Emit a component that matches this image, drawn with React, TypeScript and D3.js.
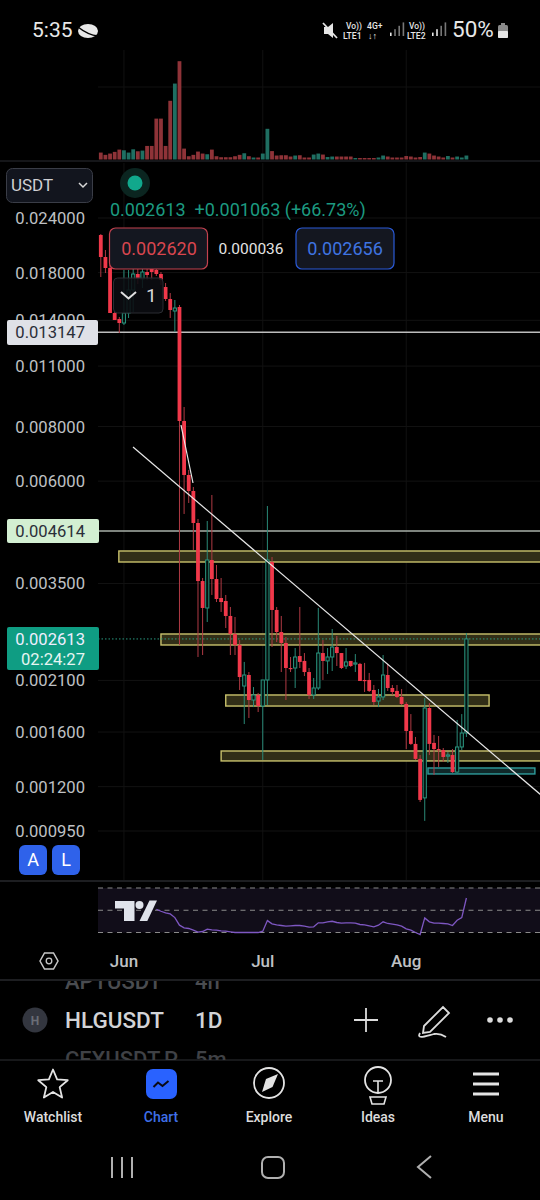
import React from "react";
import * as d3 from "d3";

const FIRST_DAY = "2023-05-27";
const MONTH_TICKS = ["2023-06-01", "2023-07-01", "2023-08-01"];
const MONTH_LABELS = ["Jun", "Jul", "Aug"];

const opens = [
  .021943,.019542,.018442,.014549,.014097,.013803,.014549,.016424,.017868,.017404,.018057,.018442,.018249,.017868,.016686,.015663,.014703,.015017,.008238,.006198,
  .005697,.004813,.003545,.003076,.003961,.003583,.003242,.003191,.002949,.002682,.002531,.002039,.002161,.001894,.001945,.001835,.002105,.003919,.003044,.002710,
  .002558,.002242,.002242,.002388,.002327,.002195,.001945,.002018,.002426,.002327,.002376,.002504,.002426,.002266,.002327,.002291,.002291,.002105,.002105,.001997,
  .001884,.001925,.002161,.002018,.001987,.001925,.001855,.001609,.001503,.001389,.001131,.001816,.001511,.001463,.001455,.001411,.001418,.001296,.001479,.001592,
];
const highs = [
  .022059,.020276,.019034,.014703,.014246,.018249,.018249,.018442,.018442,.019034,.018835,.019034,.018637,.018057,.017041,.016166,.015581,.015176,.008867,.006363,
  .005818,.004916,.003602,.004864,.005578,.003858,.003602,.003294,.003092,.002933,.002598,.002315,.002195,.002028,.001966,.002105,.005264,.004023,.003092,.002949,
  .002640,.002376,.002491,.003092,.002426,.002242,.002127,.003076,.002598,.002491,.002753,.002654,.002426,.002491,.002327,.002413,.002303,.002303,.002184,.002050,
  .002007,.002401,.002291,.002050,.002050,.002007,.001874,.001759,.001559,.001418,.001914,.001864,.001576,.001567,.001471,.001440,.001463,.001705,.001759,.002696,
];
const lows = [
  .017588,.017962,.014549,.014023,.013095,.013659,.014172,.014626,.016951,.016598,.017313,.017313,.017680,.016863,.015499,.014172,.013164,.002531,.005047,.005348,
  .004175,.002376,.002401,.002857,.003294,.003174,.003012,.002768,.002401,.002401,.001997,.001669,.001723,.001825,.001778,.001381,.001845,.002504,.002571,.002195,
  .001894,.002195,.002018,.002242,.002149,.001904,.001904,.001997,.002105,.002172,.002207,.002266,.002230,.002230,.002254,.002195,.002094,.001976,.001976,.001845,
  .001825,.001894,.001987,.001945,.001914,.001845,.001463,.001495,.001381,.001107,.001002,.001418,.001276,.001331,.001367,.001360,.001290,.001290,.001455,.001559,
];
const closes = [
  .019542,.018442,.014549,.014023,.013803,.014549,.016424,.017868,.017404,.018057,.017774,.018057,.017868,.017313,.015663,.014781,.014938,.008238,.006198,.005697,
  .004813,.003545,.003076,.003961,.003583,.003225,.003174,.002949,.002682,.002531,.002138,.002161,.001894,.001945,.001835,.002105,.003961,.003044,.002710,.002558,
  .002242,.002230,.002376,.002315,.002195,.001945,.002018,.002426,.002327,.002376,.002504,.002426,.002242,.002315,.002266,.002303,.002094,.002094,.001987,.001874,
  .001925,.002161,.002018,.001976,.001925,.001855,.001609,.001503,.001389,.001119,.001816,.001503,.001463,.001455,.001403,.001418,.001296,.001479,.001592,.002613,
];
const volumes = [
  7,4.7,6,7.7,10,9.3,7,10.3,8.3,9,13.7,13.7,41.3,41.3,13.7,59.3,76.7,99.3,11,3.3,
  4.7,8,6,5.3,10,3.3,2.3,2.3,2.3,3.3,4.7,6.3,3.3,2,2,6,31,8.5,4,4.3,
  4.3,3,4,4.3,2,2,5,6,5,2.5,3,3,3,3,3,1.5,1.5,1.5,1.5,1.5,
  2,4,3,2,2,2,3.5,3,2,2.5,7,6,4,3,2,3.5,2,3,2,4,
];
const volumeUp = [
  0,0,0,0,0,1,1,1,0,1,0,0,0,0,0,0,1,0,0,0,
  0,0,0,1,0,0,0,0,0,0,0,1,0,1,0,1,1,0,0,0,
  0,0,1,0,0,0,1,1,0,1,1,0,0,0,0,1,0,0,0,0,
  1,1,0,0,0,0,0,0,0,0,1,0,0,0,0,1,0,1,1,1,
];
const RSI_START = 12;
const rsiValues = [
  50.9,49.1,47.6,46.7,43.4,36.6,34.2,33.6,32.1,30.3,30.9,33.0,32.4,32.1,31.5,31.2,30.6,30,30,30,
  30,30,30,31.2,40.7,37.8,36.9,36.3,35.7,36,36.3,36.3,35.7,34.8,35.1,38.7,38.7,39.6,40.1,39,
  38.4,38.7,38.7,38.4,37.2,36.9,36,35.1,36.6,39.6,38.1,37.5,36.9,35.7,33.3,32.1,30,28.2,43.1,39.6,
  38.4,38.4,38.1,37.8,36.3,41,43.4,61,
];
const priceTicks = [0.024, 0.018, 0.014, 0.011, 0.008, 0.006, 0.0035, 0.0021, 0.0016, 0.0012, 0.00095];
const rsiLevels = [70, 50, 30];
// zones: top price, bottom price, first candle index, last candle index (null: runs off the chart)
const zoneTop = [0.004153, 0.002682, 0.001945, 0.001448, 0.001324];
const zoneBottom = [0.003919, 0.002531, 0.001835, 0.001374, 0.001283];
const zoneFrom = [3.9, 13, 27, 26, 70.7];
const zoneTo = [null, null, 83.9, null, 93.8];
const levelPrices = [0.013147, 0.004614];
const lastPrice = 0.002613;

const W = 540;
const FONT = "Roboto, sans-serif";
const RED = "#f0384a";
const GREEN = "#2a9680";

const parse = (s: string) => new Date(s + "T00:00:00Z");
const day0 = parse(FIRST_DAY);
const dateOf = (i: number) => d3.utcDay.offset(day0, i);
const x = d3.scaleTime().domain([day0, dateOf(79)]).range([100.8, 466.4]);
const xi = (i: number) => x(new Date(day0.getTime() + i * 864e5));
const y = d3.scaleLog().domain([0.024, 0.00095]).range([218, 831]);
const vy = d3.scaleLinear().domain([0, 100]).range([159.5, 60.5]);
const ry = d3.scaleLinear().domain([30, 70]).range([932.5, 888]);
const rsiLine = d3.line<number>().x((_, i) => xi(i + RSI_START)).y((d) => ry(d));

const fmt = (v: number) => v.toFixed(6);

const T = (p: any) => <text fontFamily={FONT} {...p} />;

function Candles() {
  return (
    <g>
      {opens.map((o, i) => {
        const c = closes[i];
        const up = c >= o;
        const cx = xi(i);
        const top = y(Math.max(o, c));
        const h = Math.max(1.2, y(Math.min(o, c)) - top);
        return (
          <g key={i}>
            <line x1={cx} x2={cx} y1={y(highs[i])} y2={y(lows[i])} stroke={up ? "#2a8a78" : "#b03a44"} strokeWidth={1} />
            {up ? (
              <rect x={cx - 1.6} y={top} width={3.2} height={h} fill="#04120f" stroke={GREEN} strokeWidth={1} />
            ) : (
              <rect x={cx - 1.9} y={top} width={3.8} height={h} fill={RED} />
            )}
          </g>
        );
      })}
    </g>
  );
}

function Zones() {
  return (
    <g>
      {zoneTop.map((t, i) => {
        const x0 = xi(zoneFrom[i]);
        const x1 = zoneTo[i] === null ? W + 4 : xi(zoneTo[i] as number);
        const teal = i === 4;
        const yt = y(t);
        const yb = y(zoneBottom[i]);
        return (
          <g key={i}>
            <rect x={x0} y={yt} width={x1 - x0} height={yb - yt} fill={teal ? "#10292a" : "#312e17"} stroke="none" />
            <rect x={x0} y={yt} width={x1 - x0} height={yb - yt} fill="none" stroke={teal ? "#2f9c9c" : "#c9c26c"} strokeWidth={1.4} />
          </g>
        );
      })}
    </g>
  );
}

function PriceLabels() {
  return (
    <g>
      {priceTicks.map((p) => (
        <T key={p} x={85} y={y(p) + 6} textAnchor="end" fontSize={16.6} fill="#bfc1c4">{fmt(p)}</T>
      ))}
      <rect x={7} y={320} width={91} height={25} rx={2} fill="#dfe1e7" />
      <T x={85} y={y(levelPrices[0]) + 5.5} textAnchor="end" fontSize={16.6} fill="#2a2e39">{fmt(levelPrices[0])}</T>
      <rect x={7} y={519} width={92} height={24} rx={2} fill="#d3efd2" />
      <T x={85} y={y(levelPrices[1]) + 6} textAnchor="end" fontSize={16.6} fill="#2a2e39">{fmt(levelPrices[1])}</T>
      <rect x={7} y={627} width={92} height={43} rx={2} fill="#0f9d83" />
      <T x={85} y={645} textAnchor="end" fontSize={16.6} fill="#eef">{fmt(lastPrice)}</T>
      <T x={85} y={665} textAnchor="end" fontSize={16.6} fill="#e6f5f2">02:24:27</T>
    </g>
  );
}

function StatusBar() {
  return (
    <g fill="#e6e6e6">
      <T x={32} y={37} fontSize={21} fill="#e8e8e8">5:35</T>
      <ellipse cx={88} cy={31} rx={10} ry={7} fill="#e8e8e8" />
      <path d="M78 27 Q88 35 98 36" stroke="#000" strokeWidth={1.6} fill="none" />
      <path d="M324 27 h4 l5 -4 v15 l-5 -4 h-4 z" fill="#e6e6e6" />
      <line x1={323} y1={23} x2={337} y2={38} stroke="#e6e6e6" strokeWidth={1.8} />
      <T x={346} y={29} fontSize={8.4} fontWeight={500} fill="#e6e6e6">Vo))</T>
      <T x={343} y={39} fontSize={8.6} fontWeight={500} fill="#e6e6e6">LTE1</T>
      <T x={367} y={29} fontSize={8.6} fontWeight={500} fill="#e6e6e6">4G+</T>
      <T x={368} y={39} fontSize={9} fontWeight={500} fill="#e6e6e6">↓↑</T>
      {[0, 1, 2, 3].map((k) => (
        <rect key={"a" + k} x={390 + k * 4.2} y={36 - (k + 1) * 3.4} width={1.6} height={(k + 1) * 3.4} fill={k < 1 ? "#e6e6e6" : "#777"} />
      ))}
      <T x={409} y={29} fontSize={8.4} fontWeight={500} fill="#e6e6e6">Vo))</T>
      <T x={407} y={39} fontSize={8.6} fontWeight={500} fill="#e6e6e6">LTE2</T>
      {[0, 1, 2, 3].map((k) => (
        <rect key={"b" + k} x={432 + k * 4.2} y={36 - (k + 1) * 3.4} width={1.6} height={(k + 1) * 3.4} fill={k < 2 ? "#e6e6e6" : "#777"} />
      ))}
      <T x={452} y={37} fontSize={22.5} fill="#e8e8e8">50%</T>
      <rect x={498} y={25} width={10} height={13} rx={1.5} fill="#8a8a8a" />
      <rect x={498} y={31} width={10} height={7} rx={1} fill="#e6e6e6" />
      <rect x={501} y={23} width={4} height={2} fill="#8a8a8a" />
    </g>
  );
}

function Header() {
  return (
    <g>
      <rect x={6.5} y={168.5} width={86} height={34} rx={6} fill="#12151e" stroke="#3a3d47" />
      <T x={11} y={191} fontSize={17} fill="#cfd0d3">USDT</T>
      <path d="M79 183 l4 4 l4 -4" fill="none" stroke="#d8d8d8" strokeWidth={1.5} />
      <circle cx={135} cy={183} r={15} fill="#0b2520" />
      <circle cx={135} cy={183} r={7.5} fill="#11a88c" />
      <T x={110} y={215.5} fontSize={18} fill="#1c9a80" xmlSpace="preserve">0.002613  +0.001063 (+66.73%)</T>
      <rect x={109.5} y={228} width={98} height={41} rx={6} fill="#141720" stroke="#c4424f" strokeWidth={1.2} />
      <T x={159} y={255} textAnchor="middle" fontSize={18} fill="#d9464f">0.002620</T>
      <T x={251} y={254} textAnchor="middle" fontSize={15.5} fill="#e4e4e4">0.000036</T>
      <rect x={296} y={228} width={98} height={41} rx={6} fill="#141720" stroke="#2a5ad8" strokeWidth={1.2} />
      <T x={345} y={255} textAnchor="middle" fontSize={18} fill="#3f74e0">0.002656</T>
    </g>
  );
}

function Dropdown() {
  return (
    <g>
      <rect x={113.5} y={278} width={49.5} height={35} rx={4} fill="rgba(11,13,17,0.88)" stroke="#2a2d33" />
      <path d="M121 292 l7.5 6.5 l7.5 -6.5" fill="none" stroke="#e0e0e0" strokeWidth={2} />
      <T x={146} y={302} fontSize={19} fill="#d8d8d8">1</T>
    </g>
  );
}

function TvLogo() {
  return (
    <g fill="#e0e3eb">
      <path d="M115 901 H134.5 V921 H124 V908.5 H115 Z" />
      <circle cx={139.5} cy={905} r={4} />
      <path d="M149.5 900.5 H157 L147.3 921 H139.5 Z" />
    </g>
  );
}

function BottomBar() {
  const labelY = 1122;
  const ic = "#e4e4e4";
  const star = d3.range(10).map((k) => {
    const r = k % 2 === 0 ? 15.5 : 7;
    const a = -Math.PI / 2 + (k * Math.PI) / 5;
    return [53 + r * Math.cos(a), 1085 + r * Math.sin(a)].join(",");
  }).join(" ");
  return (
    <g>
      <path d="M40 961 L44.5 953 H53.5 L58 961 L53.5 969 H44.5 Z" fill="none" stroke="#c8c8c8" strokeWidth={1.5} />
      <circle cx={49} cy={961} r={2.8} fill="none" stroke="#c8c8c8" strokeWidth={1.3} />
      <line x1={0} x2={W} y1={980} y2={980} stroke="#3a3c42" strokeWidth={1.2} />
      <line x1={0} x2={W} y1={1060} y2={1060} stroke="#2e3035" strokeWidth={1} />
      <clipPath id="rowA"><rect x={0} y={981} width={W} height={11} /></clipPath>
      <clipPath id="rowB"><rect x={0} y={1048} width={W} height={12} /></clipPath>
      <g clipPath="url(#rowA)" fill="#4a4c50">
        <T x={65} y={989} fontSize={22} fontWeight={500} fill="#4a4c50">APTUSDT</T>
        <T x={195} y={989} fontSize={22} fontWeight={500} fill="#4a4c50">4h</T>
      </g>
      <g clipPath="url(#rowB)">
        <T x={65} y={1067} fontSize={22} fontWeight={500} fill="#3f4145">CFXUSDT.P</T>
        <T x={195} y={1067} fontSize={22} fontWeight={500} fill="#3f4145">5m</T>
      </g>
      <circle cx={35} cy={1020} r={12.5} fill="#33363f" />
      <T x={35} y={1024.5} textAnchor="middle" fontSize={12} fontWeight={700} fill="#6a6d76">H</T>
      <T x={65} y={1028} fontSize={22.5} fontWeight={500} fill="#d2d3d6">HLGUSDT</T>
      <T x={195} y={1028} fontSize={22.5} fontWeight={500} fill="#d2d3d6">1D</T>
      <path d="M354 1020 H378 M366 1008 V1032" stroke="#dcdcdc" strokeWidth={1.8} fill="none" />
      <path d="M424 1026 L443 1007 L449 1013 L430 1032 L423 1033 Z M420 1033 C 416 1040 426 1036 434 1034 C 440 1033 443 1035 446 1037" fill="none" stroke="#dcdcdc" strokeWidth={1.8} />
      <circle cx={490} cy={1020} r={2.8} fill="#dcdcdc" />
      <circle cx={500} cy={1020} r={2.8} fill="#dcdcdc" />
      <circle cx={510} cy={1020} r={2.8} fill="#dcdcdc" />

      <polygon points={star} fill="none" stroke={ic} strokeWidth={1.8} strokeLinejoin="round" />
      <rect x={146} y={1069} width={31} height={30} rx={7} fill="#2962ff" />
      <path d="M153.5 1087 l4.5 -4.5 l4.5 3.5 l6 -5" fill="none" stroke="#0a0a14" strokeWidth={2} />
      <circle cx={269} cy={1083} r={15} fill="none" stroke={ic} strokeWidth={1.8} />
      <path d="M278 1074 L272.5 1087 L262 1092 L266 1079 Z" fill={ic} />
      <circle cx={378} cy={1080} r={13} fill="none" stroke={ic} strokeWidth={1.8} />
      <path d="M373 1081 H383 M378 1081 V1092" stroke={ic} strokeWidth={1.6} fill="none" />
      <path d="M370 1097 H386 L384 1104 H372 Z" fill="none" stroke={ic} strokeWidth={1.6} />
      <path d="M473 1074 H499 M473 1084 H499 M473 1094 H499" stroke={ic} strokeWidth={3} fill="none" />
      <T x={53} y={labelY} textAnchor="middle" fontSize={14} fontWeight={500} fill="#dcdcdc">Watchlist</T>
      <T x={161} y={labelY} textAnchor="middle" fontSize={14} fontWeight={500} fill="#3f6fe8">Chart</T>
      <T x={269} y={labelY} textAnchor="middle" fontSize={14} fontWeight={500} fill="#dcdcdc">Explore</T>
      <T x={378} y={labelY} textAnchor="middle" fontSize={14} fontWeight={500} fill="#dcdcdc">Ideas</T>
      <T x={486} y={labelY} textAnchor="middle" fontSize={14} fontWeight={500} fill="#dcdcdc">Menu</T>
      <path d="M112 1157 V1178 M122 1157 V1178 M132 1157 V1178" stroke="#b0b0b0" strokeWidth={2} fill="none" />
      <rect x={262} y={1157} width={22} height={21} rx={6} fill="none" stroke="#b0b0b0" strokeWidth={2} />
      <path d="M431 1156 L418 1167 L431 1178" stroke="#b0b0b0" strokeWidth={2} fill="none" />
    </g>
  );
}

export default function App() {
  const ticks = MONTH_TICKS.map(parse);
  return (
    <div style={{ position: "absolute", left: 0, top: 0, width: W, height: 1200, background: "#000" }}>
      <style>{`html,body{margin:0;background:#000}`}</style>
      <svg width={W} height={1200} style={{ display: "block" }}>
        <rect width={W} height={1200} fill="#000" />
        <StatusBar />
        {/* grid */}
        {ticks.map((t, i) => (
          <g key={i}>
            <line x1={x(t)} x2={x(t)} y1={50} y2={159} stroke="#111" />
            <line x1={x(t)} x2={x(t)} y1={163} y2={880} stroke="#111" />
            <line x1={x(t)} x2={x(t)} y1={888} y2={933} stroke="#1a1722" />
          </g>
        ))}
        <line x1={98} x2={W} y1={87} y2={87} stroke="#101010" />
        {priceTicks.map((p) => (
          <line key={p} x1={98} x2={W} y1={y(p)} y2={y(p)} stroke="#121212" />
        ))}
        {/* volume */}
        {volumes.map((v, i) => (
          <rect key={i} x={xi(i) - 1.9} y={vy(v)} width={3.8} height={vy(0) - vy(v)} fill={volumeUp[i] ? "#1f6f62" : "#8f3338"} />
        ))}
        <line x1={0} x2={W} y1={161} y2={161} stroke="#2b2d33" strokeWidth={1.2} />

        <Zones />
        {levelPrices.map((p, i) => (
          <line key={p} x1={98} x2={W} y1={y(p)} y2={y(p)} stroke={i === 0 ? "#bdbdbd" : "#a8b0a8"} strokeWidth={1.5} />
        ))}
        <line x1={98} x2={W} y1={y(lastPrice)} y2={y(lastPrice)} stroke="#2a9a80" strokeWidth={1} strokeDasharray="1.5 2" />
        <Candles />
        {/* trend lines */}
        <line x1={133} y1={447} x2={541} y2={795} stroke="#e8e8e8" strokeWidth={1.2} />
        <line x1={181} y1={425} x2={193} y2={483} stroke="#e8e8e8" strokeWidth={1.2} />

        <Header />
        <Dropdown />
        <PriceLabels />
        <rect x={19} y={845} width={28} height={30} rx={6} fill="#2f62ea" />
        <T x={33} y={866} textAnchor="middle" fontSize={18} fill="#fff">A</T>
        <rect x={52} y={845} width={28} height={30} rx={6} fill="#2f62ea" />
        <T x={66} y={866} textAnchor="middle" fontSize={18} fill="#fff">L</T>

        {/* rsi pane */}
        <line x1={0} x2={W} y1={881} y2={881} stroke="#3a3c42" strokeWidth={1.2} />
        <rect x={98} y={ry(70)} width={W - 98} height={ry(30) - ry(70)} fill="#110d19" />
        {rsiLevels.map((l) => (
          <line key={l} x1={98} x2={W} y1={ry(l)} y2={ry(l)} stroke="#8a8a8a" strokeWidth={1} strokeDasharray="5 4.5" />
        ))}
        <path d={rsiLine(rsiValues) as string} fill="none" stroke="#7e57c2" strokeWidth={1.3} />
        <TvLogo />

        {ticks.map((t, i) => (
          <T key={i} x={x(t)} y={967} textAnchor="middle" fontSize={17} fontWeight={500} fill="#bfc1c4">{MONTH_LABELS[i]}</T>
        ))}
        <BottomBar />
      </svg>
    </div>
  );
}
